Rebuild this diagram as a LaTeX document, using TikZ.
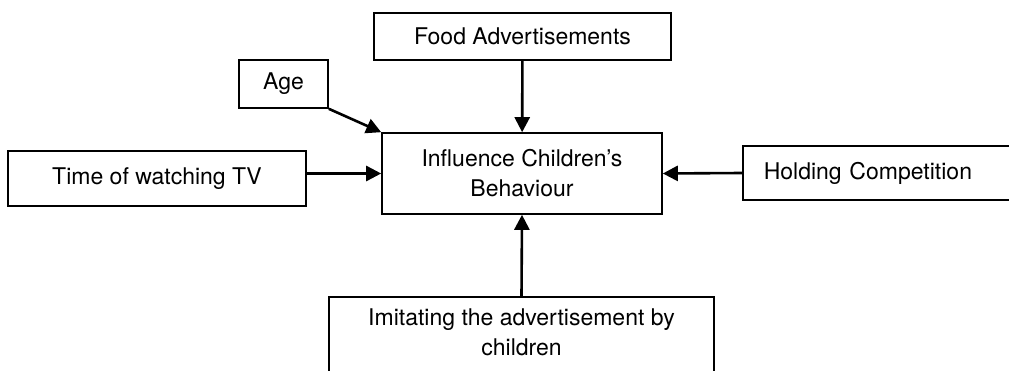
\documentclass[tikz,border=0pt]{standalone}
\usepackage{fontspec}
\setmainfont{TeX Gyre Heros}
\usetikzlibrary{arrows.meta}
\begin{document}
\begin{tikzpicture}[x=1pt,y=-1pt]
	\tikzstyle{every node}+=[font=\fontsize{23}{30}\selectfont]
	\tikzstyle{box}=[draw=black,line width=1.6pt,align=center,inner sep=0pt]
	\tikzstyle{arr}=[line width=2.6pt,-{Triangle[length=15pt,width=15pt]}]
	\useasboundingbox (0,0) rectangle (1009,371);
	\clip (0,0) rectangle (1009,371);
	\node [box,minimum width=280pt,minimum height=81pt] (infl) at (522,173.5) {Influence Children's\\Behaviour};
	\node [box,minimum width=297pt,minimum height=47pt] (food) at (522.5,36.5) {Food Advertisements};
	\node [box,minimum width=89pt,minimum height=48pt] (age) at (283.5,84) {Age};
	\node [box,minimum width=298pt,minimum height=55pt] (time) at (157,178.5) {Time of watching TV};
	\node [box,anchor=west,minimum height=54pt,text width=250pt,align=left,inner xsep=21pt] (hold) at (742,173) {Holding Competition};
	\node [box,anchor=north,minimum width=385pt,inner ysep=12pt,text depth=30pt] (imit) at (521.5,296) {Imitating the advertisement by\\children};
	\draw [arr] (food) -- (infl);
	\draw [arr] (age.south east) -- (infl.north west);
	\draw [arr] (infl.west -| time.east) -- (infl.west);
	\draw [arr] (hold.west) -- (infl.east);
	\draw [arr] (imit.north) -- (infl.south);
\end{tikzpicture}
\end{document}
